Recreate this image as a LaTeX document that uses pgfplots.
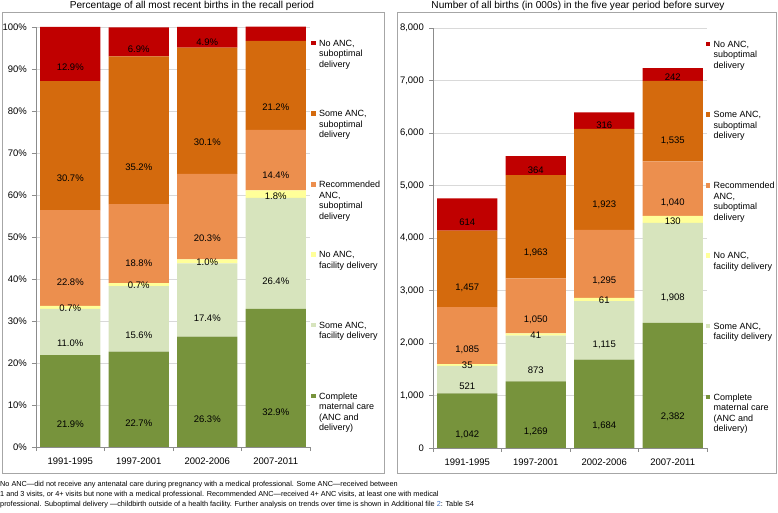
\documentclass[border=0pt]{standalone}
\usepackage{pgfplots}
\pgfplotsset{compat=1.18}
\usepackage{pgfplotstable}
\usepackage{fontspec}
\setmainfont{Liberation Sans}
\definecolor{cRed}{HTML}{C00000}
\definecolor{cOrange}{HTML}{D46A0D}
\definecolor{cLOrange}{HTML}{EC8F4E}
\definecolor{cYellow}{HTML}{FFFF99}
\definecolor{cLGreen}{HTML}{D7E4BD}
\definecolor{cGreen}{HTML}{77933C}
\definecolor{axisgray}{HTML}{8C8C8C}
\definecolor{gridgray}{HTML}{D9D9D9}
\definecolor{framegray}{HTML}{A6A6A6}
\definecolor{linkblue}{HTML}{3A6FC4}

\pgfplotstableread{
x a b c d e f
0 21.9 11.0 0.7 22.8 30.7 12.9
1 22.7 15.6 0.7 18.8 35.2 6.9
2 26.3 17.4 1.0 20.3 30.1 4.9
3 32.9 26.4 1.8 14.4 21.2 3.4
}\pctdata
\pgfplotstableread{
x a b c d e f
0 1042 521 35 1085 1457 614
1 1269 873 41 1050 1963 364
2 1684 1115 61 1295 1923 316
3 2382 1908 130 1040 1535 242
}\numdata

\newcommand{\legtext}[1]{\parbox[t]{72bp}{\raggedright #1}}

\pgfplotsset{
  halfshift/.code={\pgfkeys{/pgf/fpu=true,/pgf/fpu/output format=fixed}\pgfmathsetmacro\myhalfshift{\pgfplotspointmeta*#1}\pgfkeys{/pgf/fpu=false}},
  panel/.style={
    scale only axis, width=274bp, height=420bp,
    ybar stacked, bar width=0.88,
    xmin=-0.5, xmax=3.5,
    xtick={-0.5,0.5,1.5,2.5,3.5}, xticklabels={},
    extra x ticks={0,1,2,3},
    extra x tick labels={1991-1995,1997-2001,2002-2006,2007-2011},
    extra x tick style={major tick length=0pt},
    xticklabel style={anchor=center, yshift=-14bp},
    axis x line*=bottom, axis y line*=left,
    axis line style={draw=axisgray, line width=0.7bp, -},
    tick style={draw=axisgray, line width=0.7bp},
    tick align=outside, major tick length=4bp,
    ymajorgrids, major grid style={draw=gridgray, line width=0.7bp},
    tick label style={font=\fontsize{9.5bp}{11bp}\selectfont},
    yticklabel style={anchor=east, inner sep=0pt, xshift=-5bp},
    /pgf/number format/assume math mode=true,
    point meta=explicit,
    every node near coord/.append style={font=\fontsize{9.5bp}{11bp}\selectfont, anchor=center, text=black, inner sep=0pt},
    legend image code/.code={\fill[##1] (0bp,0.9bp) rectangle (4.6bp,5.5bp);},
    reverse legend,
    legend style={draw=none, fill=none, inner sep=0pt, outer sep=0pt, row sep=58.7bp, column sep=1.5bp,
      at={(rel axis cs:1,1)}, anchor=north west, yshift=-11bp,
      cells={anchor=base west, inner sep=0.5bp, font=\fontsize{9bp}{10.6bp}\selectfont}},
  },
}

\begin{document}
\begin{tikzpicture}
\path[use as bounding box] (0,0) rectangle (778bp,513bp);
\draw[framegray, line width=0.8bp] (2bp,40bp) rectangle (384bp,501bp);
\draw[framegray, line width=0.8bp] (397bp,40bp) rectangle (776bp,501bp);
\node[anchor=base, font=\fontsize{10.1bp}{12bp}\selectfont] at (192bp,504bp) {Percentage of all most recent births in the recall period};
\node[anchor=base, font=\fontsize{10.1bp}{12bp}\selectfont] at (578bp,504bp) {Number of all births (in 000s) in the five year period before survey};

\begin{axis}[panel, at={(36bp,66bp)}, anchor=south west,
  legend style={xshift=1bp},
  ymin=0, ymax=100, ytick distance=10,
  yticklabel={\pgfmathprintnumber{\tick}\%},
  nodes near coords={\pgfmathprintnumber[fixed,fixed zerofill,precision=1]{\pgfplotspointmeta}\%},
  every node near coord/.append style={/pgfplots/halfshift=1.05, yshift=-\myhalfshift bp},
]
\addplot[fill=cGreen, draw=none] table[x=x, y=a, meta=a] {\pctdata};
\addlegendentry{\legtext{Complete\\maternal care\\(ANC and\\delivery)}}
\addplot[fill=cLGreen, draw=none] table[x=x, y=b, meta=b] {\pctdata};
\addlegendentry{\legtext{Some ANC,\\facility delivery}}
\addplot[fill=cYellow, draw=none] table[x=x, y=c, meta=c] {\pctdata};
\addlegendentry{\legtext{No ANC,\\facility delivery}}
\addplot[fill=cLOrange, draw=none] table[x=x, y=d, meta=d] {\pctdata};
\addlegendentry{\legtext{Recommended\\ANC,\\suboptimal\\delivery}}
\addplot[fill=cOrange, draw=none] table[x=x, y=e, meta=e] {\pctdata};
\addlegendentry{\legtext{Some ANC,\\suboptimal\\delivery}}
\addplot[fill=cRed, draw=none] table[x=x, y=f, meta=f] {\pctdata};
\addlegendentry{\legtext{No ANC,\\suboptimal\\delivery}}
\end{axis}

\begin{axis}[panel, at={(433bp,65bp)}, anchor=south west,
  legend style={xshift=-1.5bp},
  ymin=0, ymax=8000, ytick distance=1000, scaled y ticks=false,
  yticklabel style={/pgf/number format/.cd, 1000 sep={,}},
  nodes near coords={\pgfmathprintnumber[fixed,precision=0,1000 sep={,}]{\pgfplotspointmeta}},
  every node near coord/.append style={/pgfplots/halfshift=0.013125, yshift=-\myhalfshift bp},
]
\addplot[fill=cGreen, draw=none] table[x=x, y=a, meta=a] {\numdata};
\addlegendentry{\legtext{Complete\\maternal care\\(ANC and\\delivery)}}
\addplot[fill=cLGreen, draw=none] table[x=x, y=b, meta=b] {\numdata};
\addlegendentry{\legtext{Some ANC,\\facility delivery}}
\addplot[fill=cYellow, draw=none] table[x=x, y=c, meta=c] {\numdata};
\addlegendentry{\legtext{No ANC,\\facility delivery}}
\addplot[fill=cLOrange, draw=none] table[x=x, y=d, meta=d] {\numdata};
\addlegendentry{\legtext{Recommended\\ANC,\\suboptimal\\delivery}}
\addplot[fill=cOrange, draw=none] table[x=x, y=e, meta=e] {\numdata};
\addlegendentry{\legtext{Some ANC,\\suboptimal\\delivery}}
\addplot[fill=cRed, draw=none] table[x=x, y=f, meta=f] {\numdata};
\addlegendentry{\legtext{No ANC,\\suboptimal\\delivery}}
\end{axis}

\begin{scope}[every node/.style={anchor=base west, inner sep=0pt, font=\fontsize{7.3bp}{9bp}\selectfont}]
\node at (0bp,27bp) {No ANC—did not receive any antenatal care during pregnancy with a medical professional. Some ANC—received between};
\node at (0bp,17bp) {1 and 3 visits, or 4+ visits but none with a medical professional. Recommended ANC—received 4+ ANC visits, at least one with medical};
\node at (0bp,7bp) {professional. Suboptimal delivery —childbirth outside of a health facility. Further analysis on trends over time is shown in Additional file {\color{linkblue}2}: Table S4};
\end{scope}
\end{tikzpicture}
\end{document}
